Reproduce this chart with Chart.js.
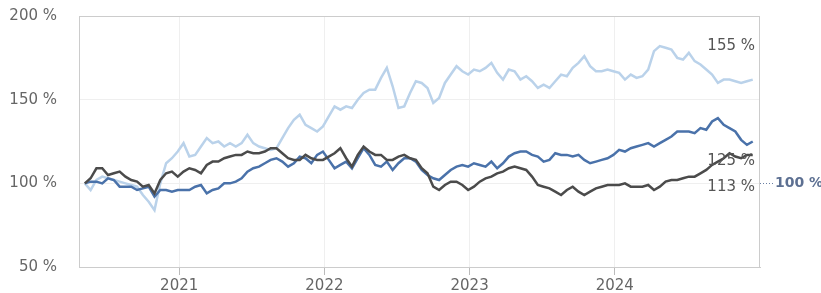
<!DOCTYPE html>
<html>
<head>
<meta charset="utf-8">
<script src="https://cdn.jsdelivr.net/npm/chart.js@4"></script>
<style>
  html, body { margin: 0; padding: 0; background: #fff; }
  #wrap { width: 821px; height: 293px; position: relative; }
</style>
</head>
<body>
<div id="wrap"><canvas id="perfChart"></canvas></div>
<script>
// dates as decimal years, roughly every two weeks
const dates = [
  2020.35, 2020.39, 2020.43, 2020.47, 2020.51, 2020.55, 2020.59, 2020.63, 2020.67, 2020.71,
  2020.75, 2020.79, 2020.83, 2020.87, 2020.91, 2020.95, 2020.99, 2021.03, 2021.07, 2021.11,
  2021.15, 2021.19, 2021.23, 2021.27, 2021.31, 2021.35, 2021.39, 2021.43, 2021.47, 2021.51,
  2021.55, 2021.59, 2021.63, 2021.67, 2021.71, 2021.75, 2021.79, 2021.83, 2021.87, 2021.91,
  2021.95, 2021.99, 2022.03, 2022.07, 2022.11, 2022.15, 2022.19, 2022.23, 2022.27, 2022.31,
  2022.35, 2022.39, 2022.43, 2022.47, 2022.51, 2022.55, 2022.59, 2022.63, 2022.67, 2022.71,
  2022.75, 2022.79, 2022.83, 2022.87, 2022.91, 2022.95, 2022.99, 2023.03, 2023.07, 2023.11,
  2023.15, 2023.19, 2023.23, 2023.27, 2023.31, 2023.35, 2023.39, 2023.43, 2023.47, 2023.51,
  2023.55, 2023.59, 2023.63, 2023.67, 2023.71, 2023.75, 2023.79, 2023.83, 2023.87, 2023.91,
  2023.95, 2023.99, 2024.03, 2024.07, 2024.11, 2024.15, 2024.19, 2024.23, 2024.27, 2024.31,
  2024.35, 2024.39, 2024.43, 2024.47, 2024.51, 2024.55, 2024.59, 2024.63, 2024.67, 2024.71,
  2024.75, 2024.79, 2024.83, 2024.87, 2024.91, 2024.95,
];

const lightSeries = [
  100, 96, 102, 104, 103, 102, 101, 100, 99, 98,
  93, 89, 84, 100, 112, 115, 119, 124, 116, 117,
  122, 127, 124, 125, 122, 124, 122, 124, 129, 124,
  122, 121, 120, 121, 127, 133, 138, 141, 135, 133,
  131, 134, 140, 146, 144, 146, 145, 150, 154, 156,
  156, 163, 169, 158, 145, 146, 154, 161, 160, 157,
  148, 151, 160, 165, 170, 167, 165, 168, 167, 169,
  172, 166, 162, 168, 167, 162, 164, 161, 157, 159,
  157, 161, 165, 164, 169, 172, 176, 170, 167, 167,
  168, 167, 166, 162, 165, 163, 164, 168, 179, 182,
  181, 180, 175, 174, 178, 173, 171, 168, 165, 160,
  162, 162, 161, 160, 161, 162,
];

const blueSeries = [
  100, 101, 101, 100, 103, 102, 98, 98, 98, 96,
  97, 98, 92, 96, 96, 95, 96, 96, 96, 98,
  99, 94, 96, 97, 100, 100, 101, 103, 107, 109,
  110, 112, 114, 115, 113, 110, 112, 116, 115, 112,
  117, 119, 114, 109, 111, 113, 109, 115, 121, 117,
  111, 110, 113, 108, 112, 115, 115, 113, 108, 105,
  103, 102, 105, 108, 110, 111, 110, 112, 111, 110,
  113, 109, 112, 116, 118, 119, 119, 117, 116, 113,
  114, 118, 117, 117, 116, 117, 114, 112, 113, 114,
  115, 117, 120, 119, 121, 122, 123, 124, 122, 124,
  126, 128, 131, 131, 131, 130, 133, 132, 137, 139,
  135, 133, 131, 126, 123, 125,
];

const darkSeries = [
  100, 103, 109, 109, 105, 106, 107, 104, 102, 101,
  98, 99, 94, 102, 106, 107, 104, 107, 109, 108,
  106, 111, 113, 113, 115, 116, 117, 117, 119, 118,
  118, 119, 121, 121, 118, 115, 114, 114, 117, 115,
  114, 114, 116, 118, 121, 115, 110, 117, 122, 119,
  117, 117, 114, 114, 116, 117, 115, 114, 109, 106,
  98, 96, 99, 101, 101, 99, 96, 98, 101, 103,
  104, 106, 107, 109, 110, 109, 108, 104, 99, 98,
  97, 95, 93, 96, 98, 95, 93, 95, 97, 98,
  99, 99, 99, 100, 98, 98, 98, 99, 96, 98,
  101, 102, 102, 103, 104, 104, 106, 108, 111, 113,
  115, 118, 116, 115, 117, 117,
];

const yearTicks = [2021, 2022, 2023, 2024];
const endLabels = ["155 %", "125 %", "113 %"];
const baseLabel = "100 %";

const toPoints = (arr) => dates.map((d, i) => ({ x: d, y: arr[i] }));

const FONT = "'DejaVu Sans', sans-serif";

const overlayPlugin = {
  id: "overlay",
  afterDraw(chart) {
    const { ctx, chartArea, scales } = chart;
    const y = scales.y;
    ctx.save();
    // frame
    ctx.strokeStyle = "#cccccc";
    ctx.lineWidth = 1;
    ctx.strokeRect(chartArea.left + 0.5, chartArea.top + 0.5,
      chartArea.right - chartArea.left - 1, chartArea.bottom - chartArea.top);

    // end labels (placed like the original, nudged apart)
    ctx.font = "15px " + FONT;
    ctx.fillStyle = "#555555";
    ctx.textAlign = "right";
    ctx.textBaseline = "middle";
    const labelRight = chartArea.right - 5;
    ctx.fillText(endLabels[0], labelRight, y.getPixelForValue(182));
    ctx.fillText(endLabels[1], labelRight, y.getPixelForValue(113.5));
    ctx.fillText(endLabels[2], labelRight, y.getPixelForValue(97.5));

    // base 100 % marker outside the plot
    const yb = Math.round(y.getPixelForValue(100)) + 0.5;
    ctx.strokeStyle = "#6a7fa3";
    ctx.setLineDash([1, 2]);
    ctx.beginPath();
    ctx.moveTo(chartArea.right, yb);
    ctx.lineTo(chartArea.right + 14, yb);
    ctx.stroke();
    ctx.setLineDash([]);
    ctx.font = "bold 14px " + FONT;
    ctx.fillStyle = "#5d7092";
    ctx.textAlign = "left";
    ctx.fillText(baseLabel, chartArea.right + 15, yb);
    ctx.restore();
  },
};

new Chart(document.getElementById("perfChart"), {
  type: "line",
  data: {
    datasets: [
      {
        data: toPoints(darkSeries),
        borderColor: "#4b4b4b",
        borderWidth: 2.5,
        order: 1,
      },
      {
        data: toPoints(blueSeries),
        borderColor: "#4a72aa",
        borderWidth: 2.5,
        order: 2,
      },
      {
        data: toPoints(lightSeries),
        borderColor: "#bad2ea",
        borderWidth: 2.5,
        order: 3,
      },
    ],
  },
  options: {
    animation: false,
    responsive: true,
    maintainAspectRatio: false,
    layout: { padding: { top: 16, right: 61, left: 0, bottom: 0 } },
    elements: { point: { radius: 0 }, line: { tension: 0 } },
    plugins: { legend: { display: false }, tooltip: { enabled: false } },
    scales: {
      x: {
        type: "linear",
        min: 2020.31,
        max: 2025.0,
        afterBuildTicks: (axis) => {
          axis.ticks = yearTicks.map((v) => ({ value: v }));
        },
        afterFit: (axis) => { axis.height = 26; },
        ticks: {
          callback: (v) => String(v),
          font: { family: FONT, size: 15 },
          color: "#666666",
          maxRotation: 0,
          padding: 2,
        },
        grid: { color: "#efefef", tickColor: "#bbbbbb", tickLength: 8 },
        border: { color: "#cccccc" },
      },
      y: {
        min: 50,
        max: 200,
        afterFit: (axis) => { axis.width = 79; },
        ticks: {
          stepSize: 50,
          callback: (v) => v + " %",
          font: { family: FONT, size: 15 },
          color: "#666666",
          padding: 0,
        },
        grid: { color: "#efefef", tickLength: 22, tickColor: "rgba(0,0,0,0)" },
        border: { color: "#cccccc" },
      },
    },
  },
  plugins: [overlayPlugin],
});
</script>
</body>
</html>
